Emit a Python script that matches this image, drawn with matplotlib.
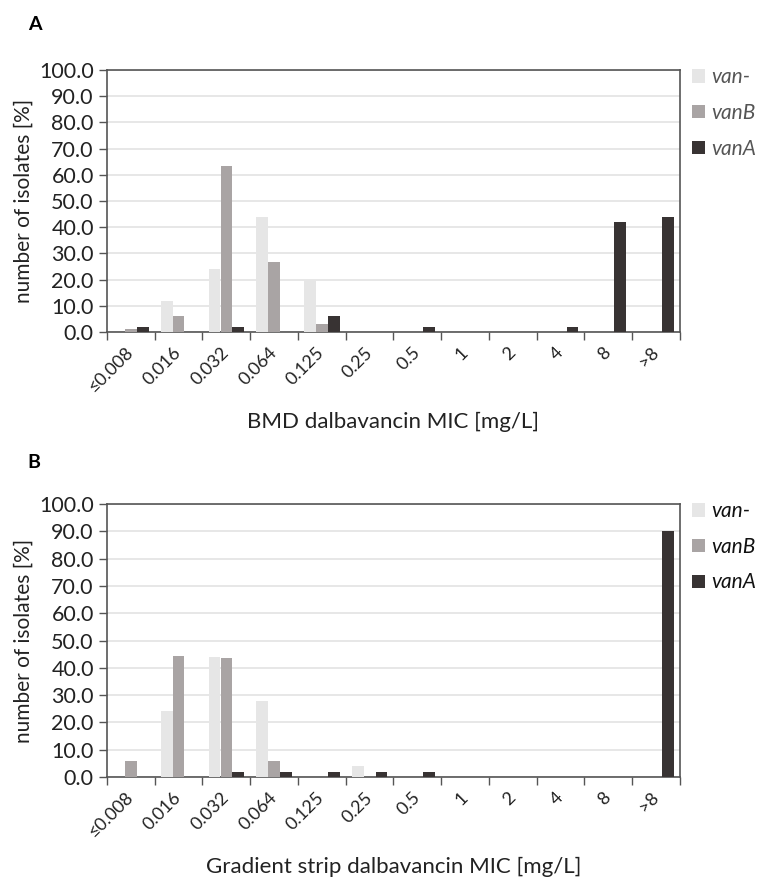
import matplotlib.pyplot as plt
import numpy as np

# MIC categories
mic_labels = ["≤0.008", "0.016", "0.032", "0.064", "0.125", "0.25",
              "0.5", "1", "2", "4", "8", ">8"]
series_names = ["van-", "vanB", "vanA"]
series_colors = ["#e6e6e6", "#a9a4a4", "#383333"]

# Panel A: BMD
bmd_van_neg = [0, 12, 24, 44, 20, 0, 0, 0, 0, 0, 0, 0]
bmd_vanB = [1, 6, 63.3, 26.7, 3, 0, 0, 0, 0, 0, 0, 0]
bmd_vanA = [2, 0, 2, 0, 6, 0, 2, 0, 0, 2, 42, 44]

# Panel B: Gradient strip
gs_van_neg = [0, 24, 44, 28, 0, 4, 0, 0, 0, 0, 0, 0]
gs_vanB = [6, 44.5, 43.5, 6, 0, 0, 0, 0, 0, 0, 0, 0]
gs_vanA = [0, 0, 2, 2, 2, 2, 2, 0, 0, 0, 0, 90]

plt.rcParams['font.family'] = ['Lato', 'DejaVu Sans']

fig = plt.figure(figsize=(7.63, 8.84), dpi=100)
ax_a = fig.add_axes([0.1402, 0.6244, 0.751, 0.2964])
ax_b = fig.add_axes([0.1402, 0.1210, 0.751, 0.3089])


def draw_panel(ax, data, xlabel, legend_color):
    x = np.arange(len(mic_labels))
    width = 0.25
    for i, (vals, name, col) in enumerate(zip(data, series_names, series_colors)):
        ax.bar(x + (i - 1) * width, vals, width * 0.98, color=col, label=name, zorder=3)
    ax.set_xlim(-0.5, len(mic_labels) - 0.5)
    ax.set_ylim(0, 100)
    ax.set_yticks(np.arange(0, 101, 10))
    ax.set_yticklabels([f"{v:.1f}" for v in np.arange(0, 101, 10)], fontsize=15.5, color="#222222")
    ax.grid(axis='y', color='#e3e3e3', linewidth=1.2, zorder=0)
    # category boundaries as major ticks, labels at centres
    ax.set_xticks(np.arange(-0.5, len(mic_labels)), labels=[""] * (len(mic_labels) + 1))
    ax.set_xticks(x, minor=True)
    ax.set_xticklabels(mic_labels, minor=True, rotation=45, ha='right', va='center',
                       rotation_mode='anchor', fontsize=13, color="#222222")
    ax.tick_params(axis='x', which='major', length=6, width=1, color='#555555')
    ax.tick_params(axis='x', which='minor', length=0, pad=13)
    ax.tick_params(axis='y', length=6, width=1, color='#555555')
    for s in ax.spines.values():
        s.set_color('#555555')
        s.set_linewidth(1.2)
    ax.set_ylabel("number of isolates [%]", fontsize=15, color="#222222", labelpad=4)
    ax.set_xlabel(xlabel, fontsize=16, color="#222222", labelpad=12)
    leg = ax.legend(loc='upper left', bbox_to_anchor=(1.021, 1.01), frameon=False,
                    borderpad=0, borderaxespad=0,
                    prop={'style': 'italic', 'size': 15}, handlelength=0.6,
                    handleheight=0.6, handletextpad=0.3, labelspacing=0.75)
    for t in leg.get_texts():
        t.set_color(legend_color)


draw_panel(ax_a, [bmd_van_neg, bmd_vanB, bmd_vanA], "BMD dalbavancin MIC [mg/L]", "#555555")
draw_panel(ax_b, [gs_van_neg, gs_vanB, gs_vanA], "Gradient strip dalbavancin MIC [mg/L]", "#111111")

fig.text(28 / 763, 1 - 25 / 884, "A", fontsize=14, fontweight='bold', va='center')
fig.text(27 / 763, 1 - 462 / 884, "B", fontsize=14, fontweight='bold', va='center')

fig.savefig("out.png", dpi=100)
